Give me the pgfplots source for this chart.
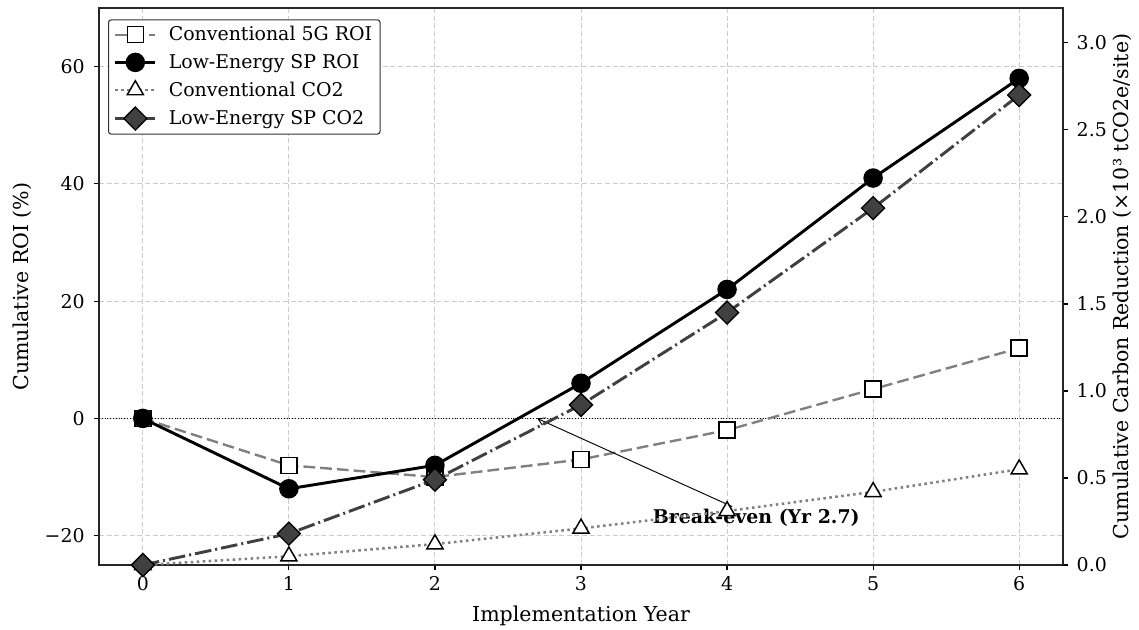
\documentclass[border=0pt]{standalone}
\usepackage{fontspec}
\setmainfont{DejaVu Serif}
\usepackage{pgfplots}
\pgfplotsset{compat=1.18}
\usetikzlibrary{arrows.meta}

\definecolor{midgray}{gray}{0.5}
\definecolor{darkgray}{gray}{0.25}
\definecolor{gridgray}{gray}{0.8}
\newcommand\fs{\fontsize{14.2pt}{17pt}\selectfont}
\newcommand\fl{\fontsize{15.4pt}{18pt}\selectfont}

\pgfplotsset{
  convroi/.style={midgray, line width=1.8pt, dash pattern=on 8.8pt off 3.8pt,
    mark=square*, mark size=6pt, mark options={solid, fill=white, draw=black, line width=1.1pt}},
  leroi/.style={black, line width=2.2pt, mark=*, mark size=6.2pt,
    mark options={solid, fill=black}},
  convco2/.style={midgray, line width=1.9pt, dash pattern=on 1.9pt off 2.6pt,
    mark=triangle*, mark size=7pt, mark options={solid, fill=white, draw=black, line width=1.1pt}},
  leco2/.style={darkgray, line width=2.2pt, dash pattern=on 12.5pt off 3pt on 1.5pt off 3pt,
    mark=square*, mark size=6.1pt, mark options={solid, rotate=45, fill=darkgray, draw=black, line width=1pt}},
  base/.style={
    width=723pt, height=417.75pt, scale only axis,
    xmin=-0.3, xmax=6.3,
    tick align=outside,
    major tick length=3.75pt,
    tick style={black, line width=0.9pt},
    tick label style={font=\fs},
    label style={font=\fl},
    axis line style={line width=1.1pt, black!85},
  },
}

\begin{document}
\begin{tikzpicture}
\begin{axis}[base, name=main,
    ymin=-25, ymax=70,
    xtick={0,1,2,3,4,5,6}, xticklabels={0,1,2,3,4,5,6},
    ytick={-20,0,20,40,60}, yticklabels={−20,0,20,40,60},
    xtick pos=lower, ytick pos=left,
    xticklabel style={yshift=-1.5pt},
    yticklabel style={xshift=-3.5pt},
    grid=major,
    grid style={gridgray, line width=0.7pt, dash pattern=on 3.75pt off 2pt},
    xlabel={Implementation Year},
    ylabel={Cumulative ROI (\%)},
    xlabel style={at={(axis description cs:0.5,-0.1023)}, anchor=base},
    ylabel style={at={(axis description cs:-0.0799,0.5)}, anchor=center},
  ]
  \addplot[black, line width=0.8pt, dash pattern=on 0.8pt off 1.3pt, forget plot]
    coordinates {(-0.3,0) (6.3,0)};
  \addplot[convroi] coordinates {
    (0,0) (1,-8) (2,-10) (3,-7) (4,-2) (5,5) (6,12)
  };
  \addplot[leroi] coordinates {
    (0,0) (1,-12) (2,-8) (3,6) (4,22) (5,41) (6,58)
  };
  \node[font=\fs\bfseries, inner sep=1.5pt] (be) at (axis cs:4.2,-16.9) {Break-even (Yr 2.7)};
  \draw[-{Straight Barb[length=5pt, width=6pt]}, line width=0.7pt] (be) -- (axis cs:2.7,0);
\end{axis}
\begin{axis}[base,
    ymin=0, ymax=3.2,
    axis x line=none, axis y line*=right,
    ytick={0,0.5,1,1.5,2,2.5,3}, yticklabels={0.0,0.5,1.0,1.5,2.0,2.5,3.0},
    yticklabel style={xshift=3pt},
    ylabel={Cumulative Carbon Reduction (×10³ tCO2e/site)},
    ylabel style={at={(axis description cs:1.0612,0.5)}, anchor=center},
    legend image code/.code={\draw[mark repeat=2, mark phase=2, #1]
      plot coordinates {(0pt,0pt) (15pt,0pt) (30pt,0pt)};},
    legend style={font=\fs, at={(0,1)}, anchor=north west, xshift=6.75pt, yshift=-8.5pt,
      draw=black!80, line width=0.8pt, rounded corners=2pt, fill=white,
      inner xsep=4pt, inner ysep=3pt, row sep=4.6pt, column sep=7pt, cells={anchor=west}},
  ]
  \addlegendimage{convroi}
  \addlegendentry{Conventional 5G ROI}
  \addlegendimage{leroi}
  \addlegendentry{Low-Energy SP ROI}
  \addplot[convco2] coordinates {
    (0,0) (1,0.05) (2,0.12) (3,0.21) (4,0.31) (5,0.42) (6,0.55)
  };
  \addlegendentry{Conventional CO2}
  \addplot[leco2] coordinates {
    (0,0) (1,0.18) (2,0.49) (3,0.92) (4,1.45) (5,2.05) (6,2.70)
  };
  \addlegendentry{Low-Energy SP CO2}
\end{axis}
\pgfresetboundingbox
\path ([shift={(-74.25pt,-48.75pt)}]main.south west) rectangle ([shift={(57pt,6pt)}]main.north east);
\end{tikzpicture}
\end{document}
